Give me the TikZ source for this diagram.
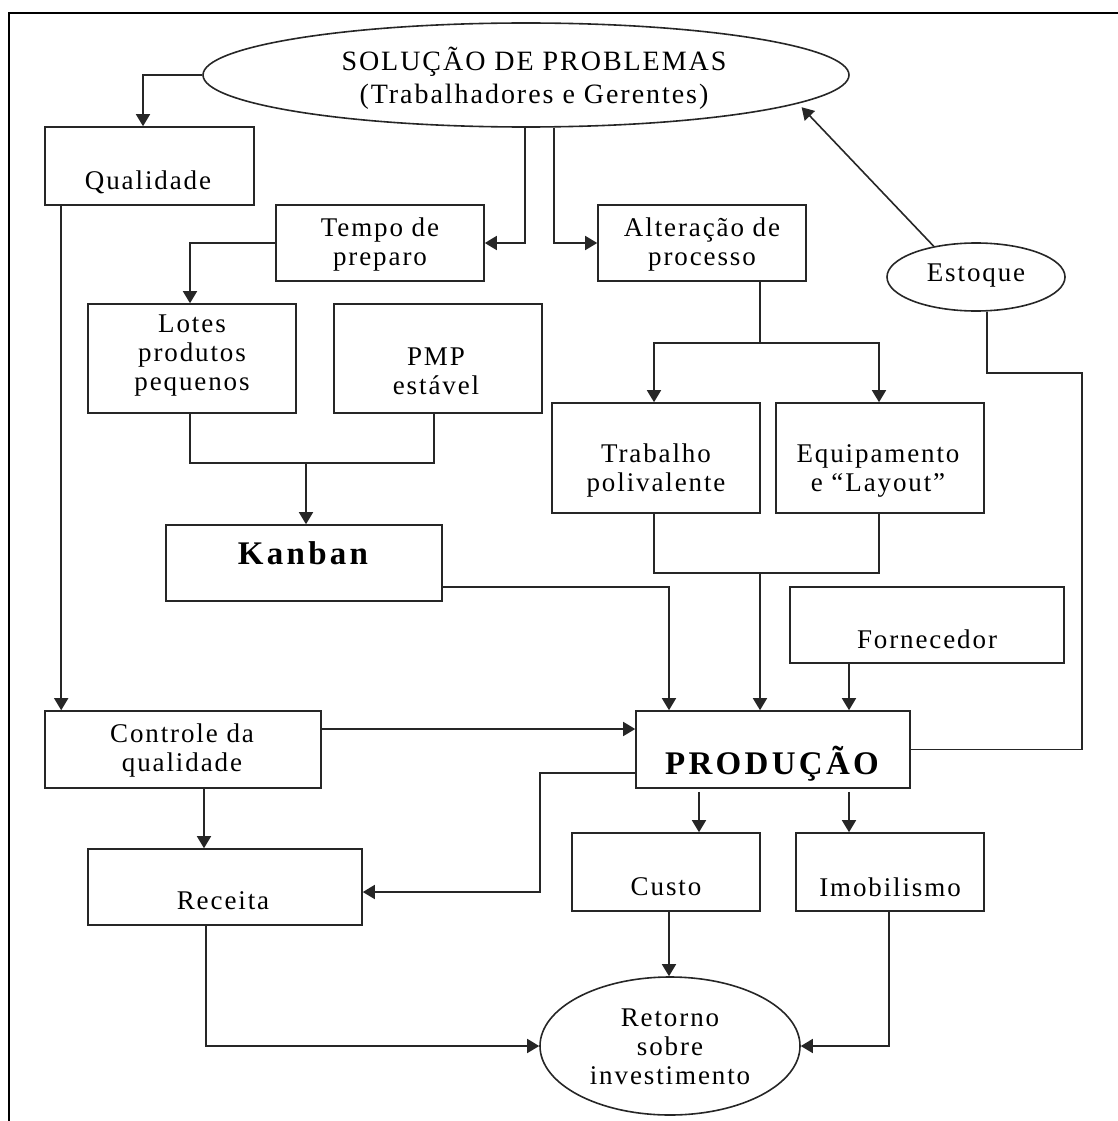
\documentclass[tikz,border=0pt]{standalone}
\usepackage{fontspec}
\setmainfont{Liberation Serif}[LetterSpace=7]
\usetikzlibrary{arrows.meta,shapes.geometric}
\begin{document}
\begin{tikzpicture}[x=1pt,y=-1pt,
  box/.style={draw=black!85,line width=1.6pt,rectangle,inner sep=0pt},
  oval/.style={draw=black!85,line width=1.6pt,ellipse,inner sep=0pt},
  txt/.style={inner sep=0pt,align=center,text=black,font=\fontsize{27}{29}\selectfont},
  bigtxt/.style={inner sep=0pt,align=center,text=black,font=\fontsize{33}{36}\selectfont\bfseries\addfontfeatures{LetterSpace=10}},
  wire/.style={draw=black!85,line width=1.6pt},
  arr/.style={wire,-{Triangle[length=12pt,width=14pt]}}]
\useasboundingbox (0,0) rectangle (1118,1121);
% outer frame (top and left edges)
\draw[line width=2.6pt] (1118,13) -- (9,13) -- (9,1121);

% shapes
\node[oval,minimum width=646pt,minimum height=104pt] (sol) at (526,75) {};
\node[oval,minimum width=178pt,minimum height=68pt] (est) at (976,277) {};
\node[oval,minimum width=260pt,minimum height=138pt] (ret) at (670,1046) {};
\node[box,minimum width=209pt,minimum height=78pt] (qual) at (149.5,166) {};
\node[box,minimum width=208pt,minimum height=76pt] (tempo) at (380,243) {};
\node[box,minimum width=208pt,minimum height=76pt] (alter) at (702,243) {};
\node[box,minimum width=208pt,minimum height=109pt] (lotes) at (192,358.5) {};
\node[box,minimum width=208pt,minimum height=109pt] (pmp) at (438,358.5) {};
\node[box,minimum width=276pt,minimum height=76pt] (kanban) at (304,563) {};
\node[box,minimum width=208pt,minimum height=110pt] (trab) at (656,458) {};
\node[box,minimum width=208pt,minimum height=110pt] (equip) at (880,458) {};
\node[box,minimum width=274pt,minimum height=76pt] (forn) at (927,625) {};
\node[box,minimum width=274pt,minimum height=77pt] (prod) at (773,749.5) {};
\node[box,minimum width=276pt,minimum height=77pt] (ctrl) at (183,749.5) {};
\node[box,minimum width=274pt,minimum height=76pt] (rec) at (225,887) {};
\node[box,minimum width=188pt,minimum height=78pt] (custo) at (666,872) {};
\node[box,minimum width=188pt,minimum height=78pt] (imob) at (890,872) {};

% labels
\node[txt,font=\fontsize{28}{33}\selectfont] (tsol) at (534,78) {SOLUÇÃO DE PROBLEMAS\\(Trabalhadores e Gerentes)};
\node[txt] (test) at (976,276) {Estoque};
\node[txt] (tret) at (670,1047) {Retorno\\sobre\\investimento};
\node[txt] (tqual) at (148,182) {Qualidade};
\node[txt] (ttempo) at (380,245) {Tempo de\\preparo};
\node[txt] (talter) at (702,245) {Alteração de\\processo};
\node[txt] (tlotes) at (192,356) {Lotes\\produtos\\pequenos};
\node[txt] (tpmp) at (436,371) {PMP\\estável};
\node[bigtxt] (tkanban) at (303,553) {Kanban};
\node[txt] (ttrab) at (656,471) {Trabalho\\polivalente};
\node[txt] (tequip) at (878,471) {Equipamento\\e “Layout”};
\node[txt] (tforn) at (927,639) {Fornecedor};
\node[bigtxt] (tprod) at (772,764) {PRODUÇÃO};
\node[txt] (tctrl) at (182,750) {Controle da\\qualidade};
\node[txt] (trec) at (223,901) {Receita};
\node[txt] (tcusto) at (666,887) {Custo};
\node[txt] (timob) at (890,887) {Imobilismo};

% junction points
\coordinate (jk) at (306,463);
\coordinate (ja) at (760,343);
\coordinate (jp) at (760,573);
\coordinate (rt) at (1082,373);
\coordinate (jr) at (540,892);

% connectors
\draw[arr] (sol.west) -| ([xshift=-6.5pt]qual.north);
\draw[arr] ([xshift=17pt]qual.south west) -- ([xshift=17pt]ctrl.north west);
\draw[arr] ([xshift=-1pt]sol.south) |- (tempo.east);
\draw[arr] ([xshift=28pt]sol.south) |- (alter.west);
\draw[arr] (tempo.west) -| ([xshift=-2pt]lotes.north);
\draw[wire] ([xshift=-2pt]lotes.south) |- (jk) -| ([xshift=-4pt]pmp.south);
\draw[arr] (jk) -- (jk |- kanban.north);
\draw[arr] ([yshift=-24pt]kanban.east) -| ([xshift=-104pt]prod.north);
\draw[wire] ([xshift=58pt]alter.south) -- (ja);
\draw[arr] (ja) -| ([xshift=-2pt]trab.north);
\draw[arr] (ja) -| ([xshift=-1pt]equip.north);
\draw[wire] ([xshift=-2pt]trab.south) |- (jp) -| ([xshift=-1pt]equip.south);
\draw[arr] (jp) -- (jp |- prod.north);
\draw[arr] ([xshift=-78pt]forn.south) -- ([xshift=-78pt]forn.south |- prod.north);
\draw[wire] (prod.east) -| (rt) -| ([xshift=11pt]est.south);
\draw[arr,shorten >=5pt] (est.144) -- (sol.-6);
\draw[arr] ([yshift=20.5pt]ctrl.east) -- ([yshift=20.5pt]prod.west);
\draw[arr] ([xshift=21pt]ctrl.south) -- ([xshift=21pt]ctrl.south |- rec.north);
\draw[arr] ([yshift=-23.5pt]prod.west) -| (jr) -- (jr -| rec.east);
\draw[arr] ([xshift=-74pt,yshift=-3pt]prod.south) -- ([xshift=-74pt]prod.south |- custo.north);
\draw[arr] ([xshift=76pt,yshift=-3pt]prod.south) -- ([xshift=76pt]prod.south |- imob.north);
\draw[arr] ([xshift=3pt]custo.south) -- ([xshift=3pt]custo.south |- ret.north);
\draw[arr] ([xshift=-19pt]rec.south) |- (ret.west);
\draw[arr] ([xshift=-1pt]imob.south) |- (ret.east);
\end{tikzpicture}
\end{document}
